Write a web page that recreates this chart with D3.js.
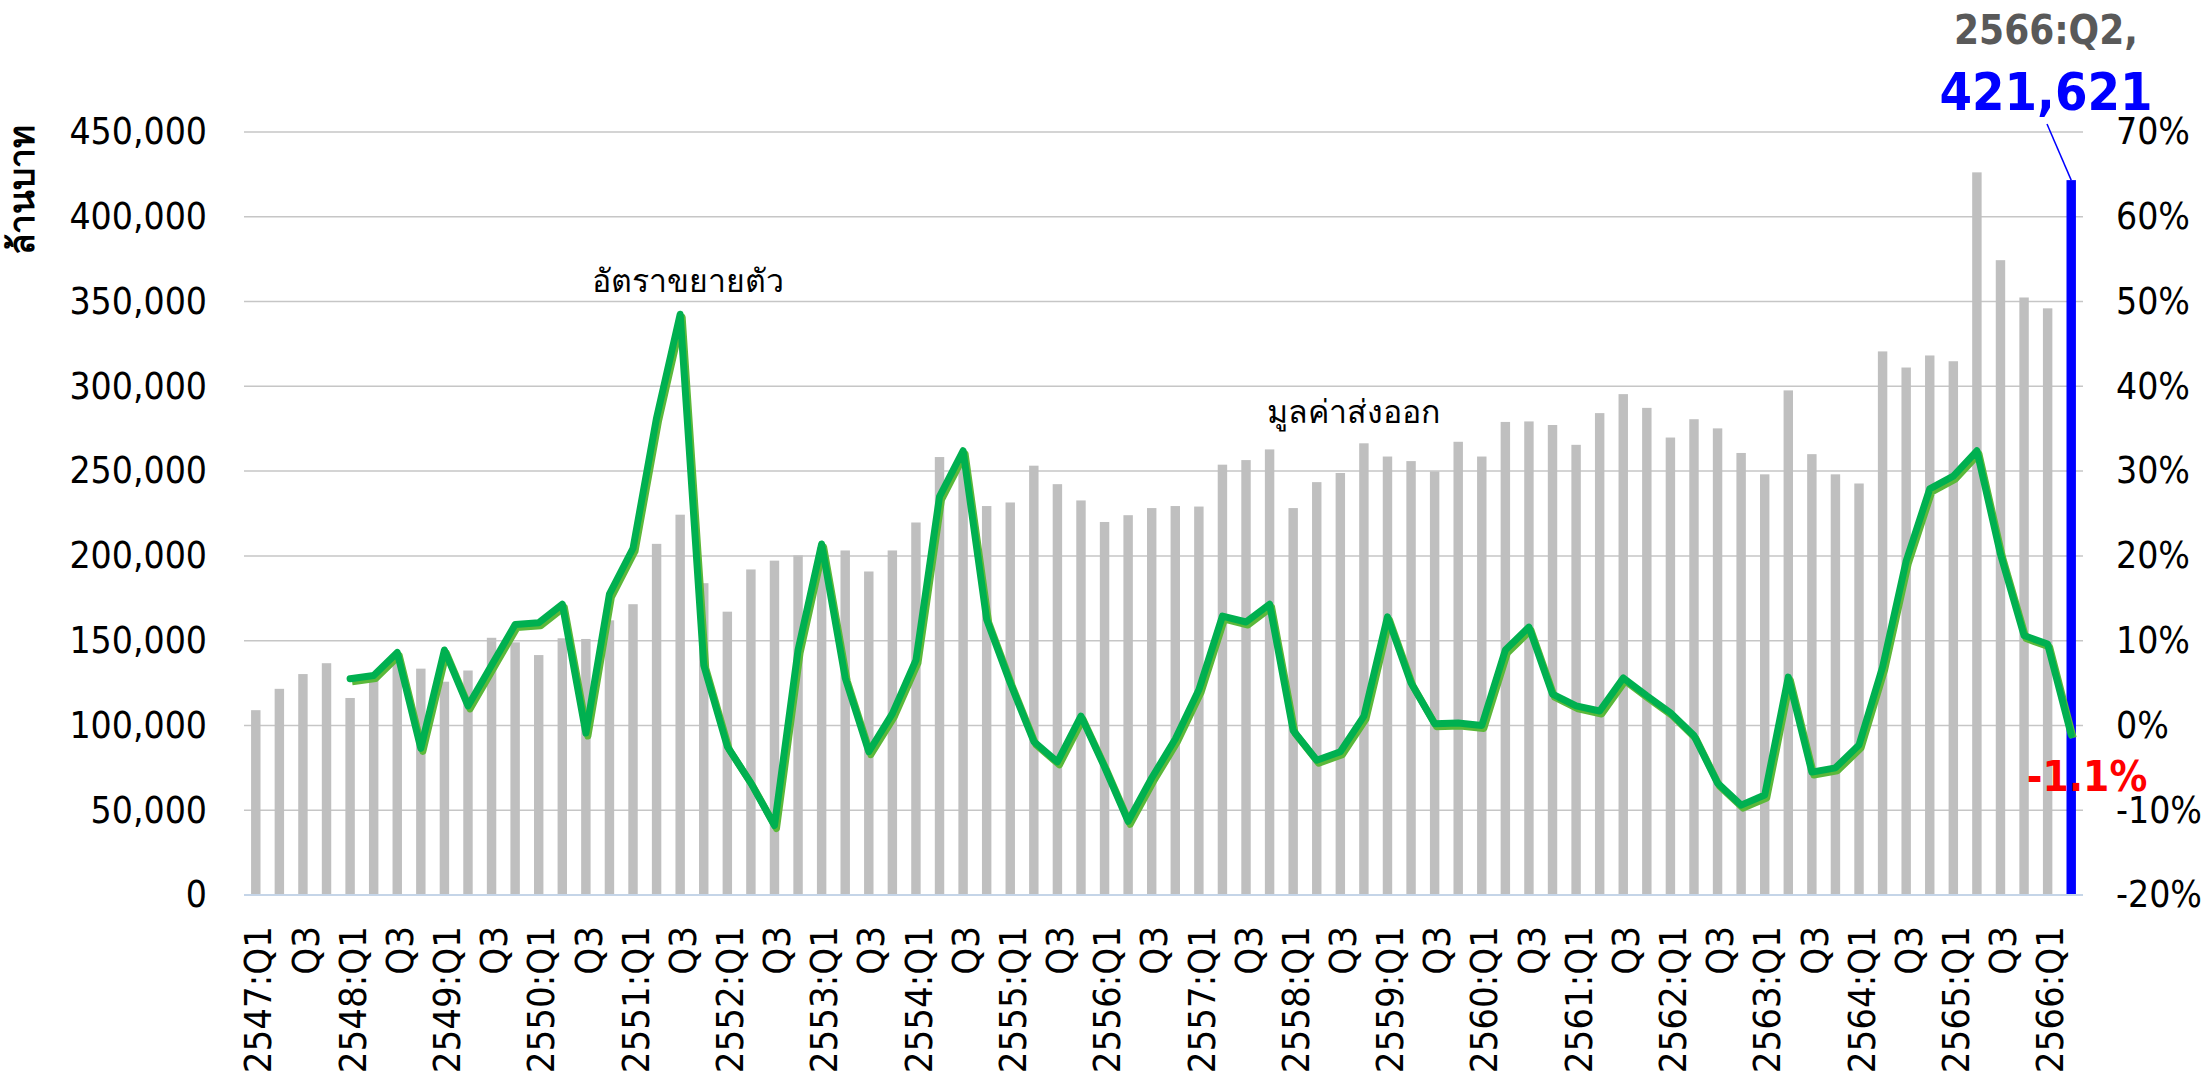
<!DOCTYPE html>
<html>
<head>
<meta charset="utf-8">
<script src="https://cdn.jsdelivr.net/npm/d3@7"></script>
<style>
  body { margin: 0; background: #fff; }
  text { font-family: 'DejaVu Sans Condensed', 'Noto Sans', sans-serif; }
</style>
</head>
<body>
<svg id="chart" width="2211" height="1081"></svg>
<script>
// quarters 2547:Q1 .. 2566:Q2
var years = d3.range(2547, 2567);
var quarters = [];
years.forEach(function(y) {
  ["Q1", "Q2", "Q3", "Q4"].forEach(function(q) {
    if (y === 2566 && (q === "Q3" || q === "Q4")) return;
    quarters.push(y + ":" + q);
  });
});

// export value, million baht
var exportValue = [
  109000, 121600, 130300, 136700, 116200, 128600, 142000, 133500,
  125800, 132400, 151700, 149000, 141500, 151400, 151000, 162000,
  171500, 207100, 224300, 183900, 167100, 192000, 197200, 200300,
  205000, 203200, 190800, 203200, 219700, 258300, 255000, 229400,
  231500, 253200, 242300, 232700, 220000, 224000, 228200, 229400,
  229100, 253800, 256500, 262800, 228200, 243500, 248900, 266400,
  258600, 255900, 249800, 267300, 258600, 279000, 279300, 277200,
  265500, 284200, 295400, 287300, 269800, 280600, 275200, 260700,
  248100, 297600, 260000, 248100, 242700, 320600, 311100, 318200,
  314800, 426200, 374400, 352400, 346000, 421621
];

// growth rate, % yoy
var growth = [
  null, null, null, null, 5.5, 5.9, 8.6, -2.7,
  8.9, 2.3, 7.1, 11.9, 12.1, 14.3, -0.9, 15.5,
  20.9, 36.3, 48.5, 7.1, -2.5, -6.8, -11.8, 8.9,
  21.4, 5.6, -3.1, 1.4, 7.7, 27.0, 32.4, 12.5,
  5.0, -1.9, -4.3, 1.1, -4.9, -11.3, -6.2, -1.6,
  4.2, 12.9, 12.2, 14.3, -0.6, -4.1, -3.1, 1.1,
  12.8, 5.0, 0.2, 0.3, 0.0, 8.9, 11.6, 3.7,
  2.3, 1.7, 5.6, 3.5, 1.5, -1.2, -6.8, -9.4,
  -8.2, 5.7, -5.5, -5.0, -2.3, 6.9, 19.4, 27.9,
  29.4, 32.4, 20.2, 10.6, 9.6, -1.1
];

var leftTicks = [0, 50000, 100000, 150000, 200000, 250000, 300000, 350000, 400000, 450000];
var rightTicks = [-20, -10, 0, 10, 20, 30, 40, 50, 60, 70];

var data = quarters.map(function(q, i) {
  return { q: q, value: exportValue[i], growth: growth[i] };
});
var last = data[data.length - 1];

var plotLeft = 244, plotRight = 2083, plotTop = 132, plotBottom = 895;
var svg = d3.select("#chart");

var x = d3.scaleBand()
  .domain(quarters)
  .range([plotLeft, plotRight])
  .paddingInner(0.6)
  .paddingOuter(0.3);

var y = d3.scaleLinear().domain([0, 450000]).range([plotBottom, plotTop]);
var y2 = d3.scaleLinear().domain([-20, 70]).range([plotBottom, plotTop]);

// gridlines
svg.append("g").selectAll("line")
  .data(leftTicks.slice(1))
  .enter().append("line")
  .attr("x1", plotLeft).attr("x2", plotRight)
  .attr("y1", function(d) { return y(d); })
  .attr("y2", function(d) { return y(d); })
  .attr("stroke", "#c6c6c6")
  .attr("stroke-width", 1.5);

// bars
svg.append("g").selectAll("rect")
  .data(data)
  .enter().append("rect")
  .attr("x", function(d) { return x(d.q); })
  .attr("width", x.bandwidth())
  .attr("y", function(d) { return y(d.value); })
  .attr("height", function(d) { return plotBottom - y(d.value); })
  .attr("fill", function(d) { return d === last ? "#0000ff" : "#bfbfbf"; });

// baseline
svg.append("line")
  .attr("x1", plotLeft).attr("x2", plotRight)
  .attr("y1", plotBottom).attr("y2", plotBottom)
  .attr("stroke", "#c5d5e8")
  .attr("stroke-width", 2);

// left axis
var yAxis = d3.axisLeft(y).tickValues(leftTicks).tickSize(0).tickPadding(0)
  .tickFormat(d3.format(","));
svg.append("g")
  .attr("transform", "translate(207,0)")
  .call(yAxis)
  .call(function(g) { g.select(".domain").remove(); })
  .selectAll("text")
  .attr("font-size", 37)
  .attr("fill", "#000");

// right axis
var yAxis2 = d3.axisRight(y2).tickValues(rightTicks).tickSize(0).tickPadding(0)
  .tickFormat(function(d) { return d + "%"; });
svg.append("g")
  .attr("transform", "translate(2116,0)")
  .call(yAxis2)
  .call(function(g) { g.select(".domain").remove(); })
  .selectAll("text")
  .attr("font-size", 37)
  .attr("fill", "#000");

// x axis labels
var xAxis = d3.axisBottom(x).tickSize(0)
  .tickValues(quarters.filter(function(q, i) { return i % 2 === 0; }))
  .tickFormat(function(q) { return q.slice(-2) === "Q1" ? q : q.slice(-2); });
svg.append("g")
  .attr("transform", "translate(0," + plotBottom + ")")
  .call(xAxis)
  .call(function(g) { g.select(".domain").remove(); })
  .selectAll("text")
  .attr("font-size", 38)
  .attr("fill", "#000")
  .attr("text-anchor", "end")
  .attr("transform", "translate(2,31) rotate(-90)")
  .attr("x", 0)
  .attr("y", 0)
  .attr("dy", "0.36em");

// growth line with shadow
var line = d3.line()
  .defined(function(d) { return d.growth !== null; })
  .x(function(d) { return x(d.q) + x.bandwidth() / 2; })
  .y(function(d) { return y2(d.growth); });

svg.append("path")
  .datum(data)
  .attr("d", line)
  .attr("transform", "translate(2,3)")
  .attr("fill", "none")
  .attr("stroke", "#5cb83a")
  .attr("stroke-width", 7)
  .attr("stroke-linejoin", "round");

svg.append("path")
  .datum(data)
  .attr("d", line)
  .attr("fill", "none")
  .attr("stroke", "#00b050")
  .attr("stroke-width", 7)
  .attr("stroke-linejoin", "round")
  .attr("stroke-linecap", "round");

// annotations
svg.append("text")
  .attr("x", 688).attr("y", 292)
  .attr("text-anchor", "middle")
  .attr("font-size", 32)
  .text("อัตราขยายตัว");

svg.append("text")
  .attr("x", 1353).attr("y", 423)
  .attr("text-anchor", "middle")
  .attr("font-size", 32)
  .text("มูลค่าส่งออก");

// y title
svg.append("text")
  .attr("transform", "translate(34,190) rotate(-90)")
  .attr("text-anchor", "middle")
  .attr("font-size", 35)
  .attr("font-weight", "bold")
  .text("ล้านบาท");

// last-point callout
var lx = x(last.q) + x.bandwidth() / 2;
svg.append("line")
  .attr("x1", 2047).attr("y1", 124)
  .attr("x2", lx).attr("y2", y(last.value))
  .attr("stroke", "#0000ff")
  .attr("stroke-width", 1.5);

svg.append("text")
  .attr("x", 2046).attr("y", 44)
  .attr("text-anchor", "middle")
  .attr("font-family", "DejaVu Sans")
  .attr("font-size", 40)
  .attr("font-weight", "bold")
  .attr("fill", "#595959")
  .text(last.q + ",");

svg.append("text")
  .attr("x", 2046).attr("y", 110)
  .attr("text-anchor", "middle")
  .attr("font-family", "DejaVu Sans")
  .attr("font-size", 52)
  .attr("font-weight", "bold")
  .attr("fill", "#0000ff")
  .text(d3.format(",")(last.value));

svg.append("text")
  .attr("x", 2087).attr("y", 791)
  .attr("text-anchor", "middle")
  .attr("font-family", "DejaVu Sans")
  .attr("font-size", 42)
  .attr("font-weight", "bold")
  .attr("fill", "#ff0000")
  .text(last.growth.toFixed(1) + "%");
</script>
</body>
</html>
